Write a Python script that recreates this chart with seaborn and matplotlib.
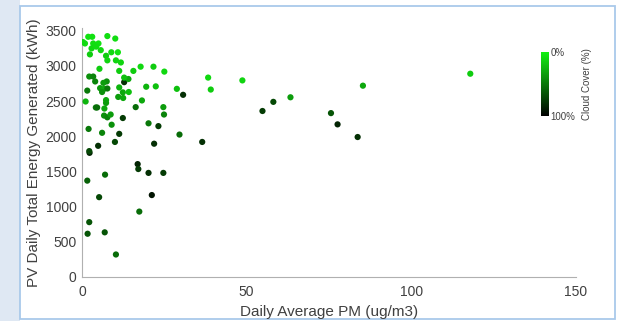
import numpy as np
import pandas as pd
import matplotlib
matplotlib.use("Agg")
import matplotlib.pyplot as plt
import seaborn as sns
from matplotlib.colors import LinearSegmentedColormap, Normalize
from matplotlib.patches import Rectangle
import matplotlib.cm as cm

pm = [0.9, 1.9, 3.1, 3.4, 5.0, 2.9, 4.3, 5.7, 2.4, 7.7, 10.1, 8.9, 10.9, 7.3, 7.7, 10.3, 11.8,
      5.3, 11.3, 15.6, 17.8, 21.7, 25.0, 38.3, 48.7, 39.1, 30.7, 28.8, 22.4, 19.5, 18.2, 16.3,
      24.7, 24.9, 20.2, 23.2, 29.6, 36.5, 54.8, 58.1, 63.3, 21.9, 10.0, 11.3, 12.4, 9.0, 6.1,
      2.0, 4.9, 2.3, 2.2, 1.1, 1.6, 2.2, 3.4, 4.0, 7.5, 5.5, 6.7, 7.7, 6.1, 7.3, 7.3, 4.2, 4.6,
      6.8, 6.7, 7.7, 8.7, 11.3, 12.4, 11.0, 12.5, 14.2, 12.8, 14.1, 12.8, 16.9, 17.1, 20.2,
      24.7, 21.2, 17.4, 7.0, 1.6, 5.2, 2.2, 1.7, 6.9, 10.3, 85.3, 117.9, 75.6, 77.6, 83.7,
      6.5, 0.3]
energy = [3320, 3415, 3415, 3320, 3320, 3250, 3275, 3225, 3165, 3425, 3390, 3195, 3195, 3145,
          3080, 3080, 3050, 2960, 2930, 2930, 2990, 2990, 2920, 2835, 2795, 2665, 2590, 2675,
          2710, 2705, 2510, 2415, 2415, 2310, 2185, 2145, 2025, 1920, 2360, 2490, 2555, 1895,
          1920, 2035, 2260, 2165, 2050, 2105, 1865, 1765, 1790, 2495, 2650, 2850, 2850, 2780,
          2780, 2685, 2675, 2680, 2630, 2515, 2475, 2410, 2410, 2395, 2295, 2270, 2310, 2695,
          2625, 2560, 2545, 2630, 2770, 2815, 2835, 1605, 1535, 1480, 1480, 1165, 930, 1455,
          1370, 1135, 780, 615, 635, 320, 2720, 2890, 2330, 2170, 1990, 2760, 3340]
cloud = [8, 6, 6, 8, 6, 10, 8, 10, 15, 8, 8, 10, 6, 15, 12, 12, 12, 15, 15, 15, 10, 15, 10, 10,
         12, 15, 80, 20, 20, 25, 30, 55, 35, 45, 50, 75, 55, 80, 75, 70, 35, 80, 70, 75, 75, 40,
         45, 50, 80, 85, 70, 25, 50, 40, 45, 45, 40, 35, 30, 50, 40, 30, 35, 50, 55, 30, 40, 45,
         35, 25, 30, 35, 30, 20, 80, 30, 20, 85, 75, 80, 75, 92, 55, 55, 60, 70, 65, 65, 65, 55,
         30, 15, 65, 85, 80, 35, 10]

x_ticks = [0, 50, 100, 150]
y_ticks = [0, 500, 1000, 1500, 2000, 2500, 3000, 3500]

df = pd.DataFrame({"pm": pm, "energy": energy, "cloud": cloud})

sns.set_style("white")
plt.rcParams["font.family"] = ["Liberation Sans", "DejaVu Sans"]

cmap = LinearSegmentedColormap.from_list("gk", ["#12f012", "#000000"])
norm = Normalize(0, 100)

fig = plt.figure(figsize=(6.21, 3.21), dpi=100)
fig.patch.set_facecolor("white")

# screenshot frame / background
fig.patches.append(Rectangle((0, 0), 20 / 621, 1, transform=fig.transFigure,
                             facecolor="#dfe8f3", edgecolor="none", zorder=-5))
fig.patches.append(Rectangle((20 / 621, 2 / 321), 595 / 621, 313 / 321, transform=fig.transFigure,
                             facecolor="white", edgecolor="#a9c9ea", linewidth=1.3, zorder=-4))

ax = fig.add_axes([82 / 621, 44 / 321, 494 / 621, 249 / 321])
ax.set_facecolor("none")
sns.scatterplot(data=df, x="pm", y="energy", hue="cloud", palette=cmap, hue_norm=norm,
                s=20, edgecolor="none", legend=False, ax=ax, zorder=3)

ax.set_xlim(0, 150)
ax.set_ylim(0, 3540)
ax.set_xticks(x_ticks)
ax.set_yticks(y_ticks)
ax.set_xlabel("Daily Average PM (ug/m3)", fontsize=11, color="#404040", labelpad=4)
ax.set_ylabel("PV Daily Total Energy Generated (kWh)", fontsize=11, color="#404040", labelpad=3)
for s in ["top", "right"]:
    ax.spines[s].set_visible(False)
for s in ["left", "bottom"]:
    ax.spines[s].set_color("#b0b0b0")
    ax.spines[s].set_linewidth(0.8)
ax.tick_params(direction="in", length=3, width=0.6, color="#b0b0b0",
               labelsize=10, labelcolor="#404040", pad=4)
ax.tick_params(axis="x", pad=6)

cax = fig.add_axes([541 / 621, (321 - 116) / 321, 8 / 621, 64 / 321])
sm = cm.ScalarMappable(norm=norm, cmap=cmap)
cb = fig.colorbar(sm, cax=cax)
cb.outline.set_visible(False)
cax.invert_yaxis()
cb.set_ticks([0, 100])
cb.set_ticklabels(["0%", "100%"])
cax.tick_params(length=0, labelsize=7, labelcolor="#404040", pad=1)
cb.set_label("Cloud Cover (%)", fontsize=7, color="#404040", labelpad=5)

fig.savefig("out.png", dpi=100)
